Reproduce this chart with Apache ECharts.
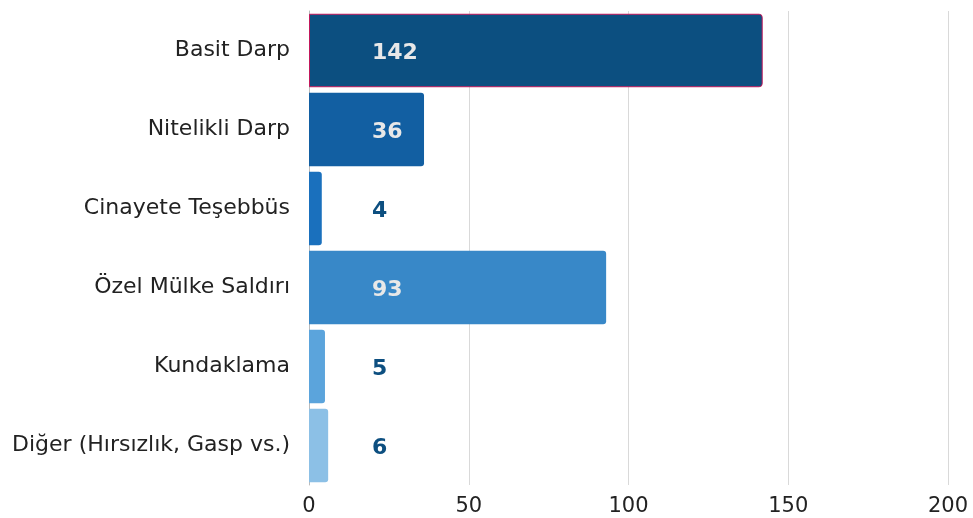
<!DOCTYPE html>
<html><head><meta charset="utf-8">
<script src="https://cdn.jsdelivr.net/npm/echarts@6/dist/echarts.min.js"></script>
<style>html,body{margin:0;padding:0;background:#fff}#c{width:973px;height:518px}</style>
</head><body><div id="c"></div>
<script>
const categories = ['Basit Darp','Nitelikli Darp','Cinayete Teşebbüs','Özel Mülke Saldırı','Kundaklama','Diğer (Hırsızlık, Gasp vs.)'];
const values = [142, 36, 4, 93, 5, 6];
const barColors = ['#0c4f80','#125fa2','#1a70bd','#3888c8','#5ba4dc','#8cc0e6'];
const xTicks = [0, 50, 100, 150, 200];

const chart = echarts.init(document.getElementById('c'));
const data = values.map((v, i) => {
  const onBar = v > 20;
  const d = {
    value: v,
    itemStyle: { color: barColors[i], borderRadius: [0, 3, 3, 0] },
    label: { color: onBar ? '#e8e8e8' : '#0d4f80' }
  };
  if (i === 0) { d.itemStyle.borderColor = '#c2185b'; d.itemStyle.borderWidth = 1; }
  return d;
});
chart.setOption({
  animation: false,
  grid: { left: 309, right: 25, top: 11, bottom: 33, containLabel: false },
  xAxis: {
    type: 'value', min: xTicks[0], max: xTicks[xTicks.length - 1], interval: 50,
    axisLine: { show: false }, axisTick: { show: false },
    splitLine: { show: true, lineStyle: { color: '#d9d9d9', width: 1 } },
    axisLabel: { color: '#222', fontSize: 21, fontFamily: 'DejaVu Sans', margin: 11 }
  },
  yAxis: {
    type: 'category', data: categories, inverse: true,
    axisLine: { show: true, lineStyle: { color: '#bbb', width: 1 } },
    axisTick: { show: false },
    axisLabel: { color: '#222', fontSize: 22, fontFamily: 'DejaVu Sans', margin: 19 }
  },
  series: [{
    type: 'bar', data: data, barCategoryGap: '7%',
    label: {
      show: true, position: [63, '50%'], align: 'left', verticalAlign: 'middle',
      fontSize: 22, fontWeight: 'bold', fontFamily: 'DejaVu Sans', offset: [0, 3]
    }
  }]
});
</script></body></html>
